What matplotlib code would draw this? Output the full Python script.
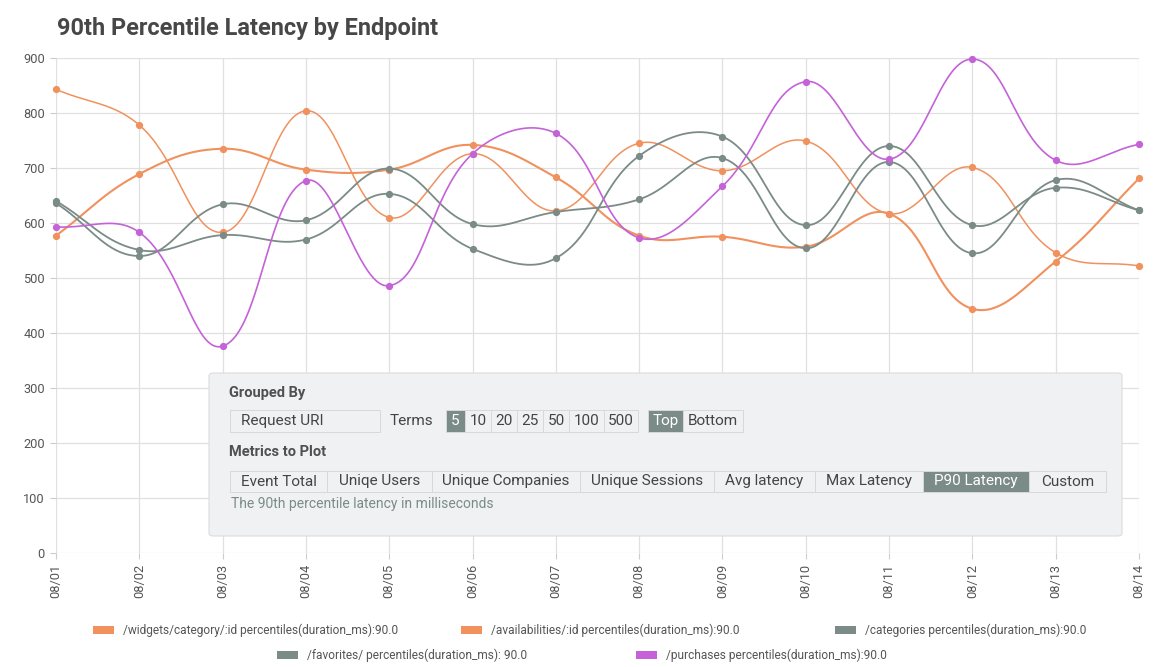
import numpy as np
import matplotlib
matplotlib.use('Agg')
import matplotlib.pyplot as plt
from matplotlib.patches import Rectangle, FancyBboxPatch

plt.rcParams['font.family'] = ['Roboto', 'DejaVu Sans']

# *****************************************
# data
dates = ['08/01', '08/02', '08/03', '08/04', '08/05', '08/06', '08/07',
         '08/08', '08/09', '08/10', '08/11', '08/12', '08/13', '08/14']
widgets = [843, 778, 583, 804, 610, 726, 622, 745, 695, 749, 617, 701, 546, 522]
availabilities = [577, 689, 735, 697, 697, 742, 683, 577, 575, 557, 617, 444, 530, 681]
categories = [640, 551, 578, 570, 653, 553, 536, 722, 757, 596, 740, 596, 664, 623]
favorites = [636, 540, 634, 605, 699, 598, 620, 643, 718, 554, 711, 545, 678, 623]
purchases = [593, 583, 376, 677, 486, 726, 763, 573, 667, 857, 716, 898, 714, 743]
y_ticks = [0, 100, 200, 300, 400, 500, 600, 700, 800, 900]

labels = ['/widgets/category/:id percentiles(duration_ms):90.0',
          '/availabilities/:id percentiles(duration_ms):90.0',
          '/categories percentiles(duration_ms):90.0',
          '/favorites/ percentiles(duration_ms): 90.0',
          '/purchases percentiles(duration_ms):90.0']

terms = ['5', '10', '20', '25', '50', '100', '500']
metrics = ['Event Total', 'Uniqe Users', 'Unique Companies', 'Unique Sessions',
           'Avg latency', 'Max Latency', 'P90 Latency', 'Custom']
# *****************************************

ORANGE = '#f0915e'
GRAY = '#7b8b87'
PURPLE = '#c562d8'
W, H = 1175, 667


def fx(x):
    return x / W


def fy(y):
    return 1 - y / H


def smooth(ax, xs, ys, tension=0.4, n=40):
    # chart.js style bezier spline, computed in pixel space
    pts = ax.transData.transform(np.column_stack([xs, ys]))
    m = len(pts)
    cps = []
    for i in range(m):
        prev = pts[max(i - 1, 0)]
        cur = pts[i]
        nxt = pts[min(i + 1, m - 1)]
        d01 = np.hypot(*(cur - prev))
        d12 = np.hypot(*(nxt - cur))
        s = d01 + d12
        fa = tension * d01 / s if s else 0
        fb = tension * d12 / s if s else 0
        cps.append((cur - fa * (nxt - prev), cur + fb * (nxt - prev)))
    t = np.linspace(0, 1, n)[:, None]
    out = []
    for i in range(m - 1):
        p0, p1, p2, p3 = pts[i], cps[i][1], cps[i + 1][0], pts[i + 1]
        seg = ((1 - t) ** 3) * p0 + 3 * ((1 - t) ** 2) * t * p1 + 3 * (1 - t) * t ** 2 * p2 + t ** 3 * p3
        out.append(seg if i == 0 else seg[1:])
    out = np.vstack(out)
    return ax.transData.inverted().transform(out)


fig = plt.figure(figsize=(W / 100, H / 100), dpi=100)
ax = fig.add_axes([fx(56), fy(553), (1139 - 56) / W, (553 - 58) / H])
x = np.arange(len(dates))
ax.set_xlim(0, len(dates) - 1)
ax.set_ylim(0, 900)

series = [(widgets, ORANGE, 1.1), (availabilities, ORANGE, 1.5),
          (categories, GRAY, 1.3), (favorites, GRAY, 1.3), (purchases, PURPLE, 1.2)]
for vals, col, lw in series:
    curve = smooth(ax, x, vals)
    ax.plot(curve[:, 0], curve[:, 1], color=col, lw=lw, zorder=3, clip_on=False)
    ax.plot(x, vals, 'o', color=col, ms=4.2, zorder=4, clip_on=False)

ax.set_xticks(x)
ax.set_xticklabels(dates, rotation=90, fontsize=9.2, color='#555555')
ax.set_yticks(y_ticks)
ax.set_yticklabels([str(v) for v in y_ticks], fontsize=9.2, color='#555555')
ax.tick_params(axis='both', length=4, width=0.8, color='#cccccc', pad=4)
ax.grid(True, color='#e0e0e0', lw=0.9)
ax.set_axisbelow(True)
for sp in ax.spines.values():
    sp.set_visible(False)

fig.text(fx(57), fy(29), '90th Percentile Latency by Endpoint', fontsize=16.9,
         fontweight='bold', color='#474747', va='center', ha='left')

# control panel over the lower part of the plot
fig.add_artist(FancyBboxPatch((fx(209), fy(536)), fx(1122 - 209), (536 - 373) / H,
                              boxstyle='round,pad=0,rounding_size=0.004',
                              transform=fig.transFigure, facecolor='#f0f1f3',
                              edgecolor='#dcdcdc', lw=0.8, zorder=5))


def box(x0, x1, y0, y1, text, selected=False, align='center', fs=11):
    fc = GRAY if selected else '#f0f1f3'
    fig.add_artist(Rectangle((fx(x0), fy(y1)), fx(x1 - x0), (y1 - y0) / H,
                             transform=fig.transFigure, facecolor=fc,
                             edgecolor='#d8d8d8', lw=0.7, zorder=6))
    tc = 'white' if selected else '#444444'
    if align == 'center':
        fig.text(fx((x0 + x1) / 2), fy((y0 + y1) / 2), text, ha='center', va='center',
                 fontsize=fs, color=tc, zorder=7)
    else:
        fig.text(fx(x0 + 11), fy((y0 + y1) / 2), text, ha='left', va='center',
                 fontsize=fs, color=tc, zorder=7)


fig.text(fx(229), fy(393), 'Grouped By', fontsize=10.5, fontweight='bold',
         color='#505050', va='center', zorder=7)
box(230, 380, 410, 432, 'Request URI', align='left')
fig.text(fx(390), fy(421), 'Terms', fontsize=11, color='#444444', va='center', zorder=7)
term_edges = [446, 465, 491, 517, 543, 569, 604, 638]
for i, lab in enumerate(terms):
    box(term_edges[i], term_edges[i + 1], 410, 432, lab, selected=(i == 0))
box(648, 683, 410, 432, 'Top', selected=True)
box(683, 743, 410, 432, 'Bottom')

fig.text(fx(229), fy(452), 'Metrics to Plot', fontsize=10.5, fontweight='bold',
         color='#505050', va='center', zorder=7)
metric_edges = [230, 327, 432, 580, 714, 815, 923, 1029, 1106]
for i, lab in enumerate(metrics):
    box(metric_edges[i], metric_edges[i + 1], 471, 492, lab, selected=(lab == 'P90 Latency'))
fig.text(fx(231), fy(504), 'The 90th percentile latency in milliseconds', fontsize=10,
         color='#7b8b87', va='center', zorder=7)

# legend
leg_cols = [ORANGE, ORANGE, GRAY, GRAY, PURPLE]
leg_pos = [(93, 630), (461, 630), (835, 630), (277, 655), (636, 655)]
for lab, col, (lx, ly) in zip(labels, leg_cols, leg_pos):
    fig.add_artist(Rectangle((fx(lx), fy(ly + 4)), fx(21), 8 / H,
                             transform=fig.transFigure, facecolor=col, edgecolor='none'))
    fig.text(fx(lx + 30), fy(ly), lab, fontsize=8.6, color='#555555', va='center', ha='left')

fig.savefig('out.png', dpi=100)
